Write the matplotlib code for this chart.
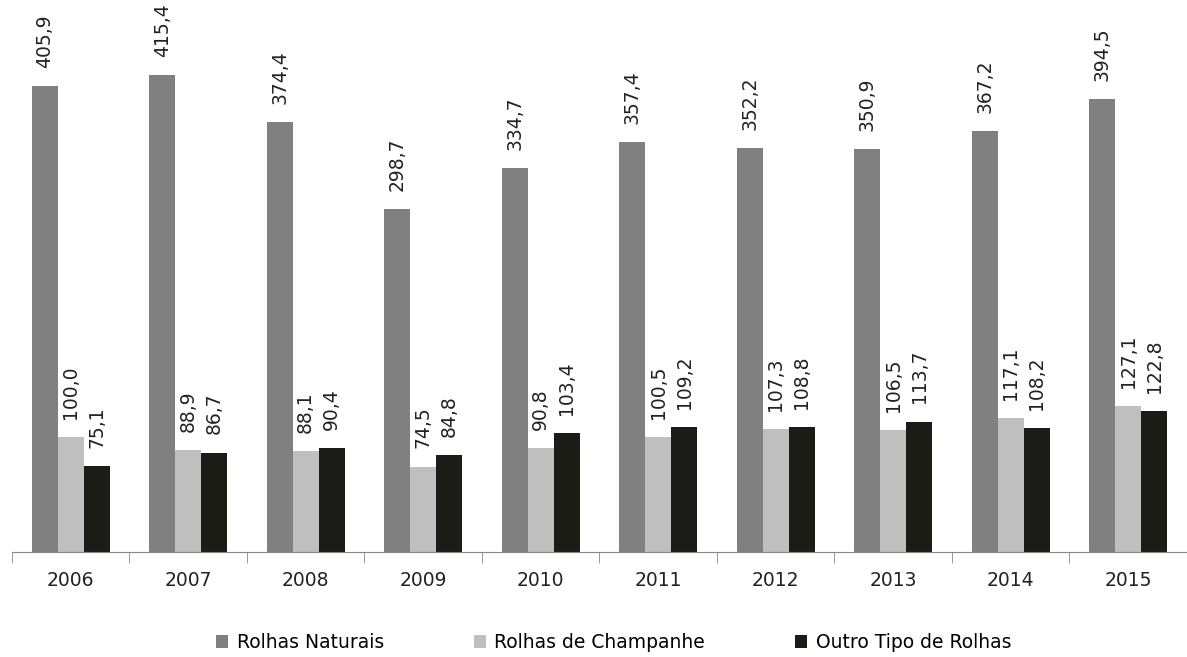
import numpy as np
import matplotlib.pyplot as plt

anos = ['2006', '2007', '2008', '2009', '2010', '2011', '2012', '2013', '2014', '2015']
naturais = [405.9, 415.4, 374.4, 298.7, 334.7, 357.4, 352.2, 350.9, 367.2, 394.5]
champanhe = [100.0, 88.9, 88.1, 74.5, 90.8, 100.5, 107.3, 106.5, 117.1, 127.1]
outro = [75.1, 86.7, 90.4, 84.8, 103.4, 109.2, 108.8, 113.7, 108.2, 122.8]

series = [
    ('Rolhas Naturais', naturais, '#808080'),
    ('Rolhas de Champanhe', champanhe, '#bfbfbf'),
    ('Outro Tipo de Rolhas', outro, '#1c1c16'),
]

plt.rcParams['font.family'] = ['DejaVu Sans']

fig = plt.figure(figsize=(11.87, 6.57), dpi=100)
ax = fig.add_axes([0.0101, 0.1598, 0.9899, 0.8402])

x = np.arange(len(anos))
w = 0.221
for i, (nome, vals, cor) in enumerate(series):
    pos = x + (i - 1) * w
    bars = ax.bar(pos, vals, width=w, color=cor, label=nome)
    for b, v in zip(bars, vals):
        ax.annotate(f'{v:.1f}'.replace('.', ','),
                    (b.get_x() + b.get_width() / 2, b.get_height()),
                    xytext=(0, 13), textcoords='offset points',
                    rotation=90, ha='center', va='bottom', fontsize=13.5, color='#222222')

ax.set_xlim(-0.5, len(anos) - 0.5)
ax.set_ylim(0, 481)
ax.set_xticks(x)
ax.set_xticklabels(anos, fontsize=13.5, color='#222222')
ax.set_xticks(np.arange(-0.5, len(anos)), minor=True)
ax.tick_params(axis='x', which='major', length=0, pad=14)
ax.tick_params(axis='x', which='minor', length=8, color='#888888')
ax.set_yticks([])
for s in ['top', 'right', 'left']:
    ax.spines[s].set_visible(False)
ax.spines['bottom'].set_color('#888888')

fig.legend(loc='center', bbox_to_anchor=(0.517, 0.022), ncol=3, frameon=False,
           fontsize=13.5, handlelength=0.65, handleheight=0.65, handletextpad=0.45,
           columnspacing=4.8)

fig.savefig('out.png', dpi=100)
